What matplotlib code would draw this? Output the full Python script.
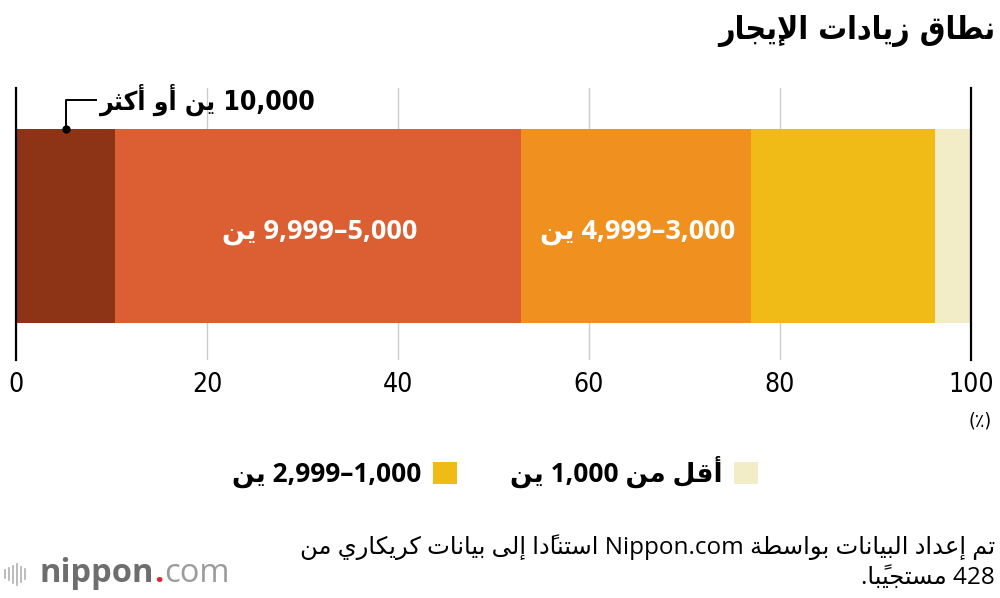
import re
import numpy as np
import matplotlib
matplotlib.use("Agg")
import matplotlib.pyplot as plt
from matplotlib.patches import Patch
from matplotlib.lines import Line2D

# --- data -------------------------------------------------------------
title = "نطاق زيادات الإيجار"
categories = ["10,000 ين أو أكثر", "5,000–9,999 ين", "3,000–4,999 ين",
              "1,000–2,999 ين", "أقل من 1,000 ين"]
shares = [10.4, 42.5, 24.1, 19.2, 3.8]
colors = ["#8c3415", "#db5f33", "#f0901e", "#f0ba17", "#f2edc7"]
xticks = [0, 20, 40, 60, 80, 100]
unit = "(٪)"
note_1 = "تم إعداد البيانات بواسطة Nippon.com استنادًا إلى بيانات كريكاري من"
note_2 = "428 مستجيبًا."

# --- minimal arabic shaping (matplotlib has no bidi / joining) ---------
DUAL = {"ب": 0xFE8F, "ت": 0xFE95, "ث": 0xFE99, "ج": 0xFE9D, "س": 0xFEB1,
        "ط": 0xFEC1, "ع": 0xFEC9, "ق": 0xFED5, "ك": 0xFED9, "ل": 0xFEDD,
        "م": 0xFEE1, "ن": 0xFEE5, "ي": 0xFEF1}
RIGHT = {"ا": 0xFE8D, "أ": 0xFE83, "إ": 0xFE87, "ة": 0xFE93, "د": 0xFEA9,
         "ر": 0xFEAD, "ز": 0xFEAF, "و": 0xFEED, "ى": 0xFEEF}
LAM_ALEF = {"ا": 0xFEFB, "أ": 0xFEF7, "إ": 0xFEF9}
MARKS = {"\u064B"}


def is_ar(t):
    return any("\u0600" <= c <= "\u06FF" for c in t)


def shape(word):
    cl = []
    for ch in word:
        if ch in MARKS and cl:
            cl[-1][1] += ch
        else:
            cl.append([ch, ""])
    res = []
    prev_join = False
    i = 0
    while i < len(cl):
        ch, mk = cl[i]
        nxt = cl[i + 1][0] if i + 1 < len(cl) else ""
        if ch == "ل" and nxt in LAM_ALEF:
            res.append(chr(LAM_ALEF[nxt] + prev_join) + mk + cl[i + 1][1])
            prev_join = False
            i += 2
            continue
        if ch in DUAL:
            next_join = nxt in DUAL or nxt in RIGHT
            res.append(chr(DUAL[ch] + [[0, 2], [1, 3]][prev_join][next_join]) + mk)
            prev_join = True
        elif ch in RIGHT:
            res.append(chr(RIGHT[ch] + prev_join) + mk)
            prev_join = False
        else:
            res.append(ch + mk)
            prev_join = False
        i += 1
    return "".join(reversed(res))


def visual(s):
    # right-to-left line: reverse the runs, shape the arabic words
    toks = re.findall(r"[\u0600-\u06FF]+|[^\s\u0600-\u06FF–]+?(?=\.$)|\.$|[^\s\u0600-\u06FF–]+|\s+|–", s)
    return "".join(shape(t) if is_ar(t) else t for t in reversed(toks))


# --- figure -----------------------------------------------------------
W, H = 1000, 598
fig = plt.figure(figsize=(W / 100, H / 100), dpi=100)
ax = fig.add_axes([16 / W, 1 - 360 / H, (971 - 16) / W, (360 - 88) / H])

AR_BOLD = dict(family=["Open Sans", "DejaVu Sans"], weight="bold")
COND = dict(family=["DejaVu Sans"], stretch="condensed")

lefts = np.concatenate([[0], np.cumsum(shares)[:-1]])
bars = ax.barh(0, shares, left=lefts, height=1.42, color=colors, zorder=2)

ax.set_xlim(0, 100)
ax.set_ylim(-0.985, 1.015)
ax.set_yticks([])
ax.set_xticks(xticks)
ax.set_xticklabels([str(t) for t in xticks], fontsize=19, **COND)
ax.tick_params(axis="x", length=0, pad=9)
ax.grid(axis="x", color="#cccccc", lw=1, zorder=0)
ax.set_axisbelow(True)
for s in ["top", "bottom"]:
    ax.spines[s].set_visible(False)
for s in ["left", "right"]:
    ax.spines[s].set_linewidth(1.6)
    ax.spines[s].set_zorder(3)

# white labels inside the two wide segments
for i in (1, 2):
    b = bars[i]
    ax.annotate(visual(categories[i]),
                xy=(b.get_x() + b.get_width() / 2, b.get_y() + b.get_height() / 2),
                xytext=(1, -4), textcoords="offset points",
                color="white", ha="center", va="center",
                fontsize=19.5, zorder=4, **AR_BOLD)

# leader label for the first segment
b0 = bars[0]
cx = b0.get_x() + b0.get_width() / 2
top = b0.get_y() + b0.get_height()
ly = 0.93
lx = 8.4
ax.plot([cx, cx, lx], [top, ly, ly], color="black", lw=1.4, zorder=4, clip_on=False)
ax.plot([cx], [top], "o", color="black", ms=5, zorder=5, clip_on=False)
ax.text(lx + 0.4, ly, visual(categories[0]), ha="left", va="center",
        fontsize=19, zorder=5, weight="bold", **COND)

# title and unit
fig.text(995 / W, 1 - 31 / H, visual(title), ha="right", va="center",
         fontsize=23, weight="bold", **COND)
fig.text(992 / W, 1 - 421 / H, unit, ha="right", va="center",
         fontsize=14, **COND)

# legend (swatch on the right of the label)
handles = [Patch(facecolor=colors[3], edgecolor="none"),
           Patch(facecolor=colors[4], edgecolor="none")]
fig.legend(handles, [visual(categories[3]), visual(categories[4])],
           loc="center", bbox_to_anchor=(495 / W, 1 - 472 / H), ncol=2,
           frameon=False, markerfirst=False, handlelength=0.9, handleheight=0.9,
           handletextpad=0.45, columnspacing=2.0, prop=dict(size=19, **AR_BOLD))

# source note
NOTE = dict(family=["Open Sans", "DejaVu Sans"], fontsize=17.5, ha="right", va="center")
fig.text(995 / W, 1 - 547 / H, visual(note_1), **NOTE)
fig.text(995 / W, 1 - 578 / H, visual(note_2), **NOTE)

# nippon.com logo
for k, h in enumerate([8, 12, 17, 21, 15, 10]):
    x = (5 + k * 4) / W
    fig.add_artist(Line2D([x, x], [1 - (574 + h / 2) / H, 1 - (574 - h / 2) / H],
                          color="#b0b0b0", lw=1.2))
t1 = fig.text(40 / W, 1 - 574 / H, "nippon", fontsize=23.5, weight="bold",
              color="#6e6e6e", family="Open Sans", va="center")
a1 = ax.annotate(".", xy=(1, 0), xycoords=t1, fontsize=23.5, weight="bold",
                 color="#e0262e", family="Open Sans", va="bottom",
                 annotation_clip=False)
a2 = ax.annotate("com", xy=(1, 0), xycoords=a1, fontsize=23.5, color="#9b9b9b",
                 family="Open Sans", va="bottom", annotation_clip=False)

fig.savefig("out.png", dpi=100)
